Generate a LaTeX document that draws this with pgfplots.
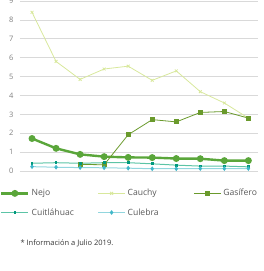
\documentclass[border=0pt]{standalone}
\usepackage{pgfplots}
\pgfplotsset{compat=1.18}
\usepackage{fontspec}
\setmainfont{Open Sans}
\definecolor{nejo}{HTML}{5AA63A}
\definecolor{cauchy}{HTML}{D8E89C}
\definecolor{gas}{HTML}{6A9A2C}
\definecolor{gasl}{HTML}{A3C27A}
\definecolor{cuit}{HTML}{5CC4A6}
\definecolor{cuitm}{HTML}{00997E}
\definecolor{cule}{HTML}{92D6DE}
\definecolor{culem}{HTML}{3FB7C9}
\definecolor{tick}{HTML}{7F7F7F}
\begin{document}
\begin{tikzpicture}
\path[use as bounding box] (-20pt,-100pt) rectangle (244pt,171pt);
\begin{axis}[
  scale only axis, width=238pt, height=170pt,
  xmin=0.5, xmax=10.4, ymin=0, ymax=9,
  ytick={0,1,...,9}, xtick=\empty,
  axis line style={draw=none},
  major tick length=0pt,
  ymajorgrids, grid style={draw=black!15, line width=0.6pt},
  tick label style={font=\fontsize{7.5}{9}\selectfont, text=tick},
  yticklabel style={xshift=-3pt},
  /pgf/number format/assume math mode=true,
  legend style={at={(0,-0.095)}, anchor=north west, draw=none, fill=none,
    font=\fontsize{8.6}{10}\selectfont, text=black!65, legend columns=3,
    /tikz/every even column/.append style={column sep=0pt},
    row sep=7pt, xshift=-20pt, inner sep=0pt},
  legend cell align=left,
  legend image code/.code={\draw[#1] (0pt,0pt) -- (27pt,0pt); \draw[#1, mark repeat=1] plot coordinates {(13.5pt,0pt)};},
]
\addplot[nejo, line width=2.4pt, mark=*, mark size=2.2pt] coordinates {
(1,1.72)(2,1.2)(3,0.88)(4,0.76)(5,0.72)(6,0.71)(7,0.66)(8,0.65)(9,0.55)(10,0.55)};
\addlegendentry{\makebox[64pt][l]{Nejo}}
\addplot[cauchy, line width=0.8pt, mark=x, mark size=2pt] coordinates {
(1,8.4)(2,5.8)(3,4.85)(4,5.4)(5,5.55)(6,4.8)(7,5.3)(8,4.2)(9,3.6)(10,2.8)};
\addlegendentry{\makebox[64pt][l]{Cauchy}}
\addplot[gas, line width=0.8pt, mark=square*, mark size=2pt] coordinates {
(3,0.35)(4,0.33)(5,1.92)(6,2.72)(7,2.6)(8,3.1)(9,3.15)(10,2.8)};
\addlegendentry{Gasífero}
\addplot[cuit, line width=1pt, mark=square*, mark size=0.9pt, mark options={draw=cuitm, fill=cuitm}] coordinates {
(1,0.41)(2,0.44)(3,0.41)(4,0.44)(5,0.44)(6,0.38)(7,0.31)(8,0.26)(9,0.26)(10,0.22)};
\addlegendentry{\makebox[64pt][l]{Cuitláhuac}}
\addplot[cule, line width=1pt, mark=diamond*, mark size=1.6pt, mark options={draw=culem, fill=culem}] coordinates {
(1,0.23)(2,0.2)(3,0.18)(4,0.17)(5,0.15)(6,0.12)(7,0.12)(8,0.13)(9,0.13)(10,0.13)};
\addlegendentry{\makebox[64pt][l]{Culebra}}
\end{axis}
\node[anchor=west, font=\fontsize{7.5}{8}\selectfont, text=black!80] at (-3pt,-72pt) {* Información a Julio 2019.};
\end{tikzpicture}
\end{document}
